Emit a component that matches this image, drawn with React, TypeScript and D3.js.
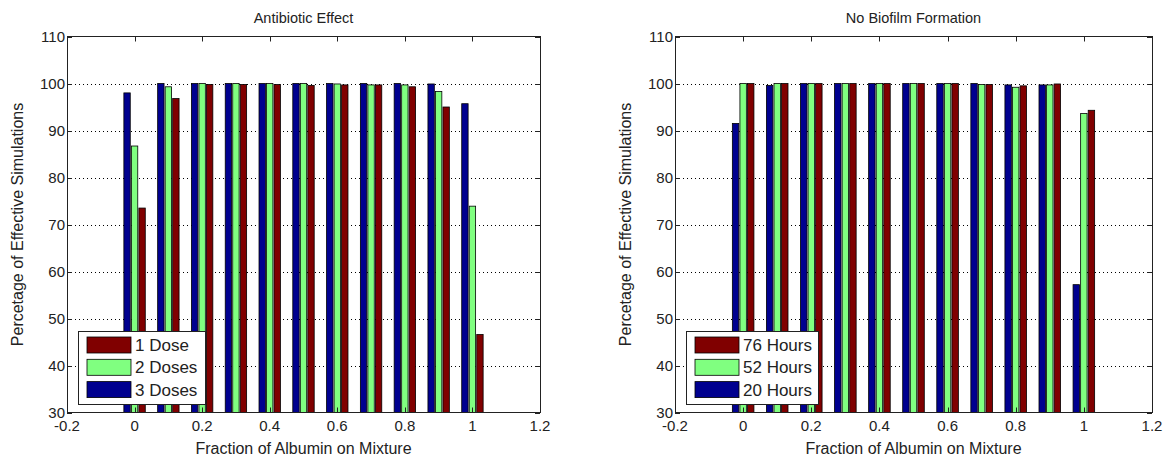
import React, { useRef, useEffect } from 'react';
import * as d3 from 'd3';

// albumin fraction for every group of bars
const fractions = [0, 0.1, 0.2, 0.3, 0.4, 0.5, 0.6, 0.7, 0.8, 0.9, 1.0];

// left panel: Antibiotic Effect
const threeDoses = [98.0, 100, 100, 100, 100, 100, 100, 100, 100, 99.9, 95.7];
const twoDoses = [86.7, 99.3, 100, 100, 100, 100, 99.9, 99.7, 99.7, 98.3, 73.9];
const oneDose = [73.5, 96.8, 99.8, 99.8, 99.8, 99.6, 99.7, 99.7, 99.3, 95.0, 46.6];

// right panel: No Biofilm Formation
const hours20 = [91.5, 99.6, 100, 100, 100, 100, 100, 100, 99.7, 99.7, 57.2];
const hours52 = [100, 100, 100, 100, 100, 100, 100, 99.8, 99.2, 99.7, 93.6];
const hours76 = [100, 100, 100, 100, 100, 100, 100, 99.8, 99.5, 99.9, 94.3];

const xTicks = [-0.2, 0, 0.2, 0.4, 0.6, 0.8, 1, 1.2];
const yTicks = [30, 40, 50, 60, 70, 80, 90, 100, 110];

const BLUE = '#00008f';
const GREEN = '#80ff80';
const RED = '#800000';

const panels = [
  {
    title: 'Antibiotic Effect',
    left: 67,
    right: 540,
    // drawn left to right inside a group
    series: [
      { name: '3 Doses', color: BLUE, values: threeDoses },
      { name: '2 Doses', color: GREEN, values: twoDoses },
      { name: '1 Dose', color: RED, values: oneDose },
    ],
  },
  {
    title: 'No Biofilm Formation',
    left: 675,
    right: 1152,
    series: [
      { name: '20 Hours', color: BLUE, values: hours20 },
      { name: '52 Hours', color: GREEN, values: hours52 },
      { name: '76 Hours', color: RED, values: hours76 },
    ],
  },
];

const FONT = '"Liberation Sans", Arial, Helvetica, sans-serif';

const App = () => {
  const svgRef = useRef<SVGSVGElement>(null);

  useEffect(() => {
    const svg = d3.select(svgRef.current);
    svg.selectAll('*').remove();

    const top = 36.5;
    const bottom = 412.5;
    const tickLen = 5;

    const y = d3.scaleLinear().domain([30, 110]).range([bottom, top]);

    panels.forEach((p) => {
      const x = d3.scaleLinear().domain([-0.2, 1.2]).range([p.left, p.right]);
      const g = svg.append('g');

      // plot background
      g.append('rect')
        .attr('x', p.left).attr('y', top)
        .attr('width', p.right - p.left).attr('height', bottom - top)
        .attr('fill', 'white');

      // dotted grid
      g.append('g')
        .selectAll('line')
        .data(yTicks.filter((t) => t > 30 && t < 110))
        .join('line')
        .attr('x1', p.left).attr('x2', p.right)
        .attr('y1', (d) => Math.round(y(d)) + 0.5)
        .attr('y2', (d) => Math.round(y(d)) + 0.5)
        .attr('stroke', '#000')
        .attr('stroke-width', 1)
        .attr('stroke-dasharray', '1,3');

      // grouped bars (matlab style offsets)
      const slot = 0.1 * (2 / 3) / 3;
      const barW = x(slot * 0.85) - x(0);
      p.series.forEach((s, i) => {
        g.append('g')
          .selectAll('rect')
          .data(fractions)
          .join('rect')
          .attr('x', (d) => x(d + (i - 1) * slot) - barW / 2)
          .attr('y', (d, j) => y(s.values[j]))
          .attr('width', barW)
          .attr('height', (d, j) => y(30) - y(s.values[j]))
          .attr('fill', s.color)
          .attr('stroke', '#000')
          .attr('stroke-width', 0.8);
      });

      // box
      g.append('rect')
        .attr('x', p.left + 0.5).attr('y', top)
        .attr('width', p.right - p.left).attr('height', bottom - top)
        .attr('fill', 'none')
        .attr('stroke', '#222')
        .attr('stroke-width', 1);

      // ticks, inward on all four sides
      const tk = g.append('g').attr('stroke', '#222').attr('stroke-width', 1);
      xTicks.forEach((t) => {
        const xx = Math.round(x(t)) + 0.5;
        tk.append('line').attr('x1', xx).attr('x2', xx).attr('y1', bottom).attr('y2', bottom - tickLen);
        tk.append('line').attr('x1', xx).attr('x2', xx).attr('y1', top).attr('y2', top + tickLen);
      });
      yTicks.forEach((t) => {
        const yy = Math.round(y(t)) + 0.5;
        tk.append('line').attr('x1', p.left).attr('x2', p.left + tickLen).attr('y1', yy).attr('y2', yy);
        tk.append('line').attr('x1', p.right).attr('x2', p.right - tickLen).attr('y1', yy).attr('y2', yy);
      });

      // tick labels
      g.append('g')
        .selectAll('text')
        .data(xTicks)
        .join('text')
        .attr('x', (d) => x(d))
        .attr('y', 431)
        .attr('text-anchor', 'middle')
        .attr('font-size', 15)
        .attr('font-family', FONT)
        .attr('fill', '#222')
        .text((d) => `${d}`);

      g.append('g')
        .selectAll('text')
        .data(yTicks)
        .join('text')
        .attr('x', p.left - 2)
        .attr('y', (d) => y(d))
        .attr('dy', '0.35em')
        .attr('text-anchor', 'end')
        .attr('font-size', 15)
        .attr('font-family', FONT)
        .attr('fill', '#222')
        .text((d) => `${d}`);

      const cx = (p.left + p.right) / 2;

      // title and axis labels
      g.append('text')
        .attr('x', cx).attr('y', 23)
        .attr('text-anchor', 'middle')
        .attr('font-size', 14.5)
        .attr('font-family', FONT)
        .attr('fill', '#222')
        .text(p.title);

      g.append('text')
        .attr('x', cx).attr('y', 454)
        .attr('text-anchor', 'middle')
        .attr('font-size', 16)
        .attr('font-family', FONT)
        .attr('fill', '#222')
        .text('Fraction of Albumin on Mixture');

      g.append('text')
        .attr('transform', `translate(${p.left - 44},${(top + bottom) / 2}) rotate(-90)`)
        .attr('text-anchor', 'middle')
        .attr('font-size', 16)
        .attr('font-family', FONT)
        .attr('fill', '#222')
        .text('Percetage of Effective Simulations');

      // legend (reverse order: red on top)
      const lx = p.left + 11.5;
      const ly = 331.5;
      const lw = p === panels[0] ? 127 : 132;
      const legend = g.append('g');
      legend.append('rect')
        .attr('x', lx).attr('y', ly)
        .attr('width', lw).attr('height', 73)
        .attr('fill', 'white')
        .attr('stroke', '#222')
        .attr('stroke-width', 1);
      const items = [...p.series].reverse();
      items.forEach((s, i) => {
        const ry = ly + 5.5 + i * 22.3;
        legend.append('rect')
          .attr('x', lx + 8.5).attr('y', ry)
          .attr('width', 44).attr('height', 16)
          .attr('fill', s.color)
          .attr('stroke', '#000')
          .attr('stroke-width', 0.8);
        legend.append('text')
          .attr('x', lx + 56.5).attr('y', ry + 8)
          .attr('dy', '0.36em')
          .attr('font-size', 17)
          .attr('font-family', FONT)
          .attr('fill', '#222')
          .text(s.name);
      });
    });
  }, []);

  return (
    <svg
      ref={svgRef}
      width={1168}
      height={457}
      style={{ position: 'absolute', left: 0, top: 0, background: 'white' }}
    />
  );
};

export default App;
